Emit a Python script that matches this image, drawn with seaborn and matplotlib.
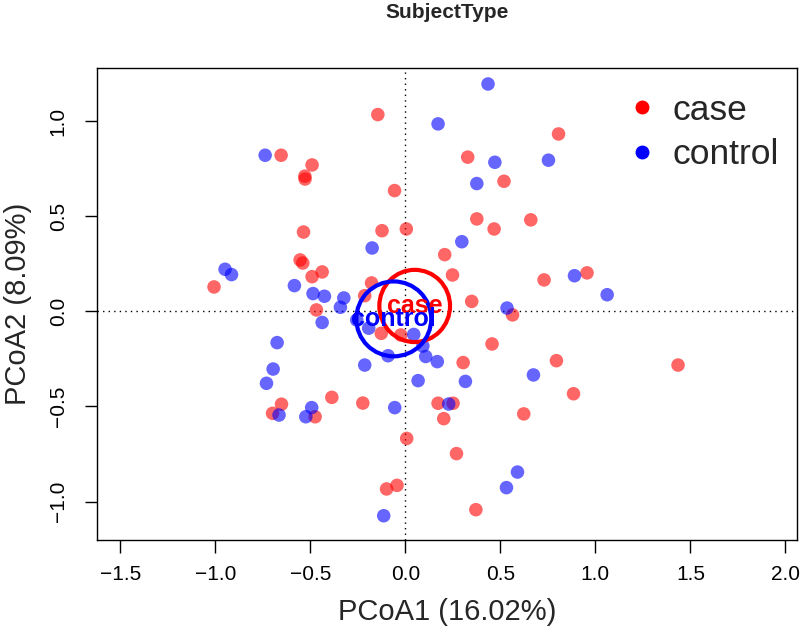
import numpy as np
import pandas as pd
import matplotlib
matplotlib.use("Agg")
import matplotlib.pyplot as plt
from matplotlib.patches import Ellipse
from matplotlib.lines import Line2D
import seaborn as sns

# PCoA coordinates
case_x = [-0.145, -0.654, -0.491, -0.529, -0.528, -0.057, -0.536, -0.123, 0.005, -0.554,
          -0.540, -0.438, -0.491, -1.007, -0.178, -0.214, -0.468, -0.127, -0.024, -0.652,
          -0.699, -0.387, -0.475, -0.224, 0.007, -0.099, -0.044, 0.806, 0.328, 0.519,
          0.376, 0.467, 0.660, 0.207, 0.248, 0.349, 0.564, 0.730, 0.956, 0.456,
          0.304, 0.172, 0.251, 0.202, 0.269, 0.371, 0.623, 0.885, 0.795, 1.435]
case_y = [1.036, 0.822, 0.771, 0.712, 0.697, 0.636, 0.418, 0.425, 0.434, 0.271,
          0.255, 0.208, 0.183, 0.129, 0.150, 0.083, 0.008, -0.115, -0.124, -0.488,
          -0.536, -0.452, -0.554, -0.482, -0.668, -0.934, -0.915, 0.934, 0.812, 0.685,
          0.487, 0.434, 0.482, 0.299, 0.192, 0.053, -0.018, 0.166, 0.203, -0.171,
          -0.269, -0.483, -0.483, -0.564, -0.748, -1.043, -0.539, -0.433, -0.259, -0.282]
control_x = [-0.738, -0.175, -0.949, -0.915, -0.584, -0.486, -0.426, -0.324, -0.342, -0.438,
             -0.675, -0.696, -0.731, -0.665, -0.493, -0.524, -0.056, -0.114, -0.214, -0.091,
             -0.193, -0.256, 0.044, 0.092, 0.107, 0.168, 0.067, 0.316, 0.228, 0.674,
             0.532, 0.590, 0.435, 0.172, 0.471, 0.753, 0.376, 0.297, 0.535, 0.890, 1.062]
control_y = [0.822, 0.334, 0.222, 0.194, 0.136, 0.094, 0.080, 0.071, 0.022, -0.058,
             -0.164, -0.303, -0.378, -0.545, -0.506, -0.554, -0.506, -1.075, -0.282, -0.233,
             -0.088, -0.045, -0.121, -0.182, -0.237, -0.264, -0.364, -0.368, -0.487, -0.334,
             -0.927, -0.845, 1.197, 0.987, 0.785, 0.796, 0.673, 0.367, 0.018, 0.188, 0.088]

groups = ["case", "control"]
colors = ["red", "blue"]
# group ellipses (centre and radii)
ell_cx = [0.049, -0.061]
ell_cy = [0.029, -0.039]
ell_rx = [0.186, 0.197]
ell_ry = [0.190, 0.197]

df = pd.DataFrame({
    "PCoA1": case_x + control_x,
    "PCoA2": case_y + control_y,
    "SubjectType": ["case"] * len(case_x) + ["control"] * len(control_x),
})

sns.set_style("white")
plt.rcParams["font.family"] = ["Liberation Sans", "DejaVu Sans"]

fig = plt.figure(figsize=(8, 6.28), dpi=100)
ax = fig.add_axes([0.121, 0.140, 0.875, 0.752])

sns.scatterplot(data=df, x="PCoA1", y="PCoA2", hue="SubjectType",
                palette=dict(zip(groups, colors)), s=95, alpha=0.6,
                linewidth=0, legend=False, ax=ax, zorder=3)

ax.axhline(0, color="black", linestyle=(0, (1, 3)), linewidth=1, zorder=1)
ax.axvline(0, color="black", linestyle=(0, (1, 3)), linewidth=1, zorder=1)

for g, c, cx, cy, rx, ry in zip(groups, colors, ell_cx, ell_cy, ell_rx, ell_ry):
    ax.add_patch(Ellipse((cx, cy), 2 * rx, 2 * ry, fill=False, edgecolor=c,
                         linewidth=3, zorder=4))
    ax.text(cx, cy, g, color=c, fontsize=18, fontweight="bold",
            ha="center", va="center", zorder=5)

ax.set_xlim(-1.624, 2.06)
ax.set_ylim(-1.203, 1.282)
ax.set_xticks([-1.5, -1.0, -0.5, 0.0, 0.5, 1.0, 1.5, 2.0])
ax.set_xticklabels(["\u22121.5", "\u22121.0", "\u22120.5", "0.0", "0.5", "1.0", "1.5", "2.0"])
ax.set_yticks([-1.0, -0.5, 0.0, 0.5, 1.0])
ax.set_yticklabels(["\u22121.0", "\u22120.5", "0.0", "0.5", "1.0"], rotation=90, va="center")
ax.tick_params(axis="both", direction="out", length=9, width=1, labelsize=15,
               colors="black", left=True, bottom=True)
ax.tick_params(axis="x", pad=9)
ax.tick_params(axis="y", pad=12)
for sp in ax.spines.values():
    sp.set_color("black")
    sp.set_linewidth(1)

ax.set_xlabel("PCoA1 (16.02%)", fontsize=21, labelpad=10)
ax.set_ylabel("PCoA2 (8.09%)", fontsize=21, labelpad=12)

fig.text(0.559, 1 - 13 / 628, "SubjectType", fontsize=15, fontweight="bold",
         ha="center", va="center")

handles = [Line2D([], [], marker="o", linestyle="none", markersize=9,
                  markerfacecolor=c, markeredgecolor=c) for c in colors]
ax.legend(handles, groups, loc="upper left", bbox_to_anchor=(0.754, 0.945),
          frameon=False, fontsize=25.5, handlelength=1.0, handletextpad=0.35,
          borderpad=0, borderaxespad=0, labelspacing=0.33)

fig.savefig("out.png", dpi=100)
